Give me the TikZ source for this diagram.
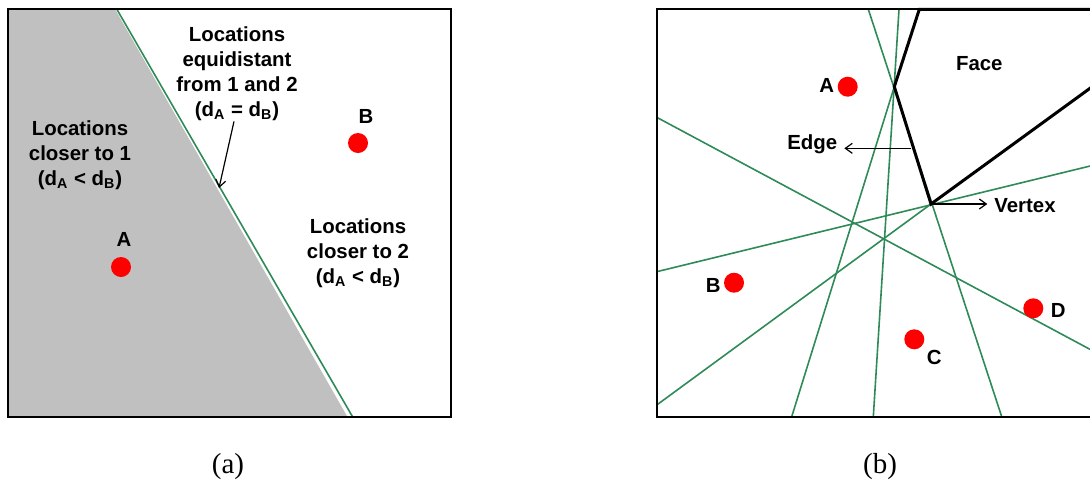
\documentclass[tikz,border=0pt]{standalone}
\usepackage{fontspec}
\setmainfont{Liberation Sans}
\newfontfamily\capfont{Liberation Serif}
\usetikzlibrary{arrows.meta,calc,positioning}
\definecolor{bisect}{HTML}{2E8B57}
\definecolor{region}{HTML}{C0C0C0}
\definecolor{site}{HTML}{FF0000}

\begin{document}
\begin{tikzpicture}[x=0.5pt,y=-0.5pt,>={Straight Barb[length=3.5pt,width=5pt]},
  font=\fontsize{10.2}{12.5}\selectfont\bfseries,
  sitedot/.style={circle,fill=site,inner sep=0pt,minimum size=10pt},
  txt/.style={align=center,inner sep=0pt},
  frame/.style={line width=1pt},
  cell/.style={line width=1.5pt,line join=miter},
  bis/.style={bisect,line width=0.8pt},
  subcap/.style={font=\capfont\fontsize{14.5}{17}\selectfont}]
  \useasboundingbox (0,0) rectangle (1090,484);
  \clip (0,0) rectangle (1090,484);

  % (a) two sites
  \fill[region] (8,9) -- (115,9) -- (347.5,417) -- (8,417) -- cycle;
  \draw[bis] (116.7,9) -- (352.7,417);
  \draw[frame] (8,9) rectangle (451,417);

  \node[sitedot] (sA) at (121,267) {};
  \node[sitedot] (sB) at (358,143) {};
  \node (labA) at (124,239) {A};
  \node (labB) at (366,116) {B};

  \node[txt] (near1) at (80,155)
    {Locations\\closer to 1\\(d\textsubscript{A} < d\textsubscript{B})};
  \node[txt] (equi) at (237,74)
    {Locations\\equidistant\\from 1 and 2\\(d\textsubscript{A} = d\textsubscript{B})};
  \node[txt] (near2) at (358,253)
    {Locations\\closer to 2\\(d\textsubscript{A} < d\textsubscript{B})};
  \coordinate (onbis) at (219,188);
  \draw[->,line width=0.6pt] ([xshift=-1.5pt]equi.south) -- (onbis);

  \node[subcap] (capA) at (228,467) {(a)};

  % (b) four sites
  \coordinate (v1) at (894.3,86.7);
  \coordinate (v2) at (931,204);
  \draw[bis] (868.3,9.3) -- (1001.7,416.7);
  \draw[bis] (899,9.3) -- (873.3,416.7);
  \draw[bis] (656.7,117.3) -- (1100,354.7);
  \draw[bis] (656.7,271.7) -- (1100,163.6);
  \draw[bis] (656.7,405) -- (v2);
  \draw[bis] (791.7,416.7) -- (v1);
  \draw[frame] (1100,9) -- (657,9) -- (657,417) -- (1100,417);
  \draw[cell] (1100,9.3) -- (919.3,9.3) -- (v1) -- (v2) -- (1100,81);

  \node[sitedot] (sA2) at (847.7,86.7) {};
  \node[sitedot] (sB2) at (734,282.7) {};
  \node[sitedot] (sC2) at (914.3,339.3) {};
  \node[sitedot] (sD2) at (1033.3,308.3) {};
  \node (labA2) at (826.7,85) {A};
  \node (labB2) at (713.3,285) {B};
  \node (labC2) at (934.3,357.7) {C};
  \node (labD2) at (1058.3,310) {D};

  \node (face) at (979.3,64) {Face};
  \node (edge) at (812.3,144.3) {Edge};
  \node (vertex) at (1025,205.7) {Vertex};
  \coordinate (onedge) at (911,148.3);
  \draw[->,line width=0.6pt] (onedge) -- (edge.east |- onedge);
  \draw[->,line width=0.6pt] (v2) -- (vertex.west |- v2);

  \node[subcap] (capB) at (880,467) {(b)};
\end{tikzpicture}
\end{document}
